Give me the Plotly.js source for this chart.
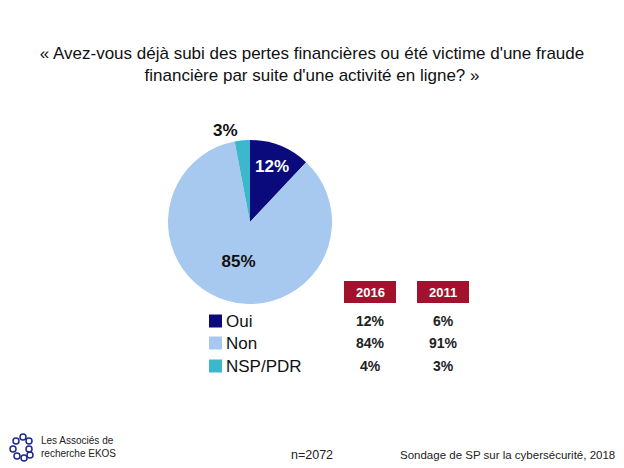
<!DOCTYPE html>
<html><head><meta charset="utf-8">
<script src="https://cdn.plot.ly/plotly-3.0.1.min.js"></script>
<style>html,body{margin:0;padding:0;background:#fff}#c{width:624px;height:468px}</style>
</head><body><div id="c"></div>
<script>
const categories = ['Oui', 'Non', 'NSP/PDR'];
const values2018 = [12, 85, 3];
const years = ['2016', '2011'];
const values2016 = [12, 84, 4];
const values2011 = [6, 91, 3];
const colors = ['#0a0a7c', '#a7c9ef', '#3db7cc'];

const F = 'Liberation Sans, Arial, sans-serif';
const pie = {
  type: 'pie', labels: categories, values: values2018, sort: false,
  direction: 'clockwise', rotation: 0,
  marker: {colors: colors, line: {width: 0}},
  texttemplate: '<b>%{value}%</b>', textposition: ['inside', 'inside', 'outside'],
  insidetextorientation: 'horizontal',
  textfont: {family: F, size: 17, color: ['#ffffff', '#111111', '#111111']},
  outsidetextfont: {family: F, size: 17, color: '#111111'},
  insidetextfont: {family: F, size: 17, color: ['#ffffff', '#111111', '#111111']},
  domain: {x: [168/624, 332/624], y: [1 - 304/468, 1 - 140/468]},
  hoverinfo: 'none', showlegend: false
};

const annotations = [];
const shapes = [];
const colX = [370, 443];
const rowY = [321, 343, 366];
years.forEach((y, i) => {
  shapes.push({type: 'rect', xref: 'paper', yref: 'paper',
    x0: (colX[i] - 26)/624, x1: (colX[i] + 26)/624,
    y0: 1 - 303/468, y1: 1 - 281/468,
    fillcolor: '#a3122c', line: {width: 0}});
  annotations.push({xref: 'paper', yref: 'paper', x: colX[i]/624, y: 1 - 292/468,
    text: '<b>' + y + '</b>', showarrow: false, xanchor: 'center', yanchor: 'middle',
    font: {family: F, size: 13, color: '#ffffff'}});
});
[values2016, values2011].forEach((vals, i) => {
  vals.forEach((v, j) => {
    annotations.push({xref: 'paper', yref: 'paper', x: colX[i]/624, y: 1 - rowY[j]/468,
      text: '<b>' + v + '%</b>', showarrow: false, xanchor: 'center', yanchor: 'middle',
      font: {family: F, size: 14, color: '#222222'}});
  });
});
// legend drawn from categories / colors
categories.forEach((c, j) => {
  shapes.push({type: 'rect', xref: 'paper', yref: 'paper',
    x0: 209/624, x1: 222/624, y0: 1 - (rowY[j] + 6.5)/468, y1: 1 - (rowY[j] - 6.5)/468,
    fillcolor: colors[j], line: {width: 0}});
  annotations.push({xref: 'paper', yref: 'paper', x: 224/624, y: 1 - (rowY[j] + 0.5)/468,
    text: c, showarrow: false, xanchor: 'left', yanchor: 'middle',
    font: {family: F, size: 17, color: '#111111'}});
});
annotations.push({xref: 'paper', yref: 'paper', x: 39/624, y: 1 - 447/468,
  text: 'Les Associés de<br>recherche EKOS', showarrow: false, xanchor: 'left', yanchor: 'middle', align: 'left',
  font: {family: F, size: 10, color: '#222222'}});
annotations.push({xref: 'paper', yref: 'paper', x: 312/624, y: 1 - 455/468,
  text: 'n=2072', showarrow: false, xanchor: 'center', yanchor: 'middle',
  font: {family: F, size: 12.5, color: '#222222'}});
annotations.push({xref: 'paper', yref: 'paper', x: 617/624, y: 1 - 455/468,
  text: 'Sondage de SP sur la cybersécurité, 2018', showarrow: false, xanchor: 'right', yanchor: 'middle',
  font: {family: F, size: 11.5, color: '#222222'}});
// logo
const logo = [[16,441],[23,437],[29,441],[13,449],[29,449],[17,456],[24,458],[30,455]];
logo.forEach(p => shapes.push({type: 'circle', xref: 'paper', yref: 'paper',
  x0: (p[0]-3)/624, x1: (p[0]+3)/624, y0: 1 - (p[1]+3)/468, y1: 1 - (p[1]-3)/468,
  line: {color: '#1c2a8c', width: 1.5}, fillcolor: 'rgba(0,0,0,0)'}));

const layout = {
  width: 624, height: 468, margin: {l: 0, r: 0, t: 0, b: 0},
  paper_bgcolor: '#ffffff',
  title: {text: '« Avez-vous déjà subi des pertes financières ou été victime d\'une fraude<br>financière par suite d\'une activité en ligne? »',
    x: 0.5, xanchor: 'center', y: 1 - 59/468, yanchor: 'middle',
    font: {family: F, size: 17, color: '#111111'}},
  showlegend: false,
  annotations: annotations, shapes: shapes
};
Plotly.newPlot('c', [pie], layout, {displayModeBar: false, staticPlot: true});
</script></body></html>
